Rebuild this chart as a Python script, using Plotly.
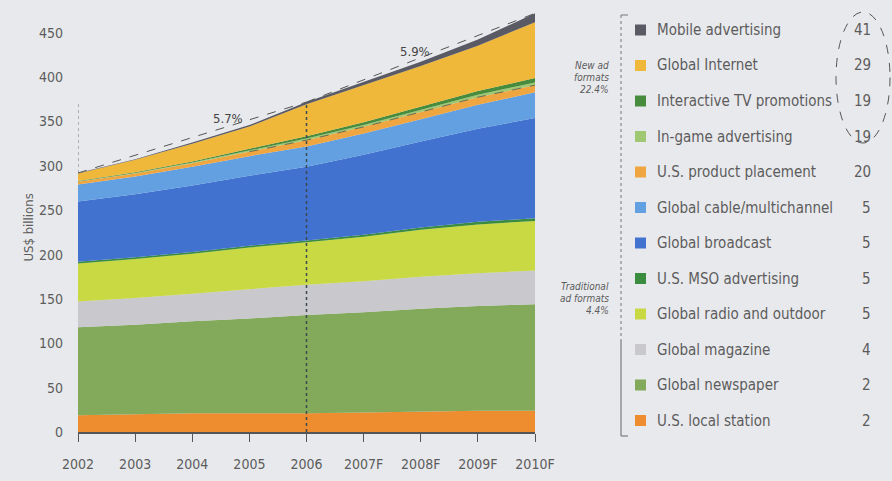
import plotly.graph_objects as go

# ---- data (US$ billions) ----
years = ["2002", "2003", "2004", "2005", "2006", "2007F", "2008F", "2009F", "2010F"]

local_station   = [19, 20, 21, 21, 21, 22, 23, 24, 24]
newspaper       = [99, 101, 104, 107, 111, 113, 116, 118, 120]
magazine        = [29, 30, 31, 33, 34, 35, 36, 37, 38]
radio_outdoor   = [43, 44, 45, 47, 48, 50, 53, 55, 56]
mso             = [2, 2, 2, 2, 2, 2.5, 2.5, 3, 3]
broadcast       = [68, 71, 75, 79, 83, 90, 97, 105, 113]
cable           = [19, 20, 21, 22, 23, 24, 25, 27, 29]
product_place   = [3, 3.5, 4, 5, 7, 7.5, 8, 8.5, 8]
in_game         = [0.4, 0.6, 0.9, 1.3, 2, 2.2, 2.5, 2.8, 3]
itv             = [0.6, 0.8, 1.2, 1.6, 2.5, 3, 3.5, 4.2, 5]
internet        = [8.5, 14, 20, 25.5, 36, 42, 46, 51, 63]
mobile          = [0.5, 0.7, 1.2, 1.6, 2.5, 3.5, 5, 7, 10]

# legend order (top to bottom) with CAGR %
series = [
    ("Mobile advertising",        mobile,        "#5a5a64", "41"),
    ("Global Internet",           internet,      "#efb83a", "29"),
    ("Interactive TV promotions", itv,           "#468c3c", "19"),
    ("In-game advertising",       in_game,       "#a0c872", "19"),
    ("U.S. product placement",    product_place, "#f0a640", "20"),
    ("Global cable/multichannel", cable,         "#62a0e2", "5"),
    ("Global broadcast",          broadcast,     "#4272d0", "5"),
    ("U.S. MSO advertising",      mso,           "#3a8c3e", "5"),
    ("Global radio and outdoor",  radio_outdoor, "#c8d944", "5"),
    ("Global magazine",           magazine,      "#c8c8cd", "4"),
    ("Global newspaper",          newspaper,     "#82aa5a", "2"),
    ("U.S. local station",        local_station, "#ee8c30", "2"),
]
new_formats_label = ["New ad", "formats", "22.4%"]
trad_formats_label = ["Traditional", "ad formats", "4.4%"]
growth_labels = ["5.7%", "5.9%"]

xs = list(range(len(years)))
totals = [sum(s[1][i] for s in series) for i in xs]
traditional = [totals[i] - mobile[i] - internet[i] - itv[i] - in_game[i] for i in xs]

FONT = "DejaVu Sans Condensed, Liberation Sans Narrow, Arial Narrow, sans-serif"
GREY = "#5c5c5c"
BG = "#e8e9ec"

# page geometry
W, H = 892, 481
L, R, T, B = 78, 357, 8, 49
PW, PH = W - L - R, H - T - B


def px(x):
    return (x - L) / PW


def py(y):
    return (H - B - y) / PH


fig = go.Figure()

# stacked areas, bottom layer first
for name, vals, color, _ in reversed(series):
    fig.add_trace(go.Scatter(
        x=xs, y=vals, name=name, stackgroup="one", mode="lines",
        line=dict(width=0, color=color), fillcolor=color,
        hoverinfo="x+y+name", showlegend=False,
    ))

# growth trend lines 2002-2006 and 2006-2010
fig.add_trace(go.Scatter(x=[0, 4], y=[totals[0], totals[4]], mode="lines",
                         line=dict(color="#555", width=1, dash="dash"),
                         showlegend=False, hoverinfo="skip"))
fig.add_trace(go.Scatter(x=[4, 8], y=[totals[4], totals[8]], mode="lines",
                         line=dict(color="#555", width=1, dash="dash"),
                         showlegend=False, hoverinfo="skip"))
# boundary between traditional and new formats
fig.add_trace(go.Scatter(x=xs[3:], y=traditional[3:], mode="lines",
                         line=dict(color="#6a6a50", width=1, dash="dash"),
                         showlegend=False, hoverinfo="skip"))
# 2006 reference line and 2002 level marker
fig.add_trace(go.Scatter(x=[4, 4], y=[0, totals[4]], mode="lines",
                         line=dict(color="#3c4a50", width=1.5, dash="dot"),
                         showlegend=False, hoverinfo="skip"))
fig.add_trace(go.Scatter(x=[0, 0], y=[totals[0], totals[4]], mode="lines",
                         line=dict(color="#777", width=1, dash="dot"),
                         showlegend=False, hoverinfo="skip"))

annotations = []
shapes = []

# growth labels
annotations.append(dict(x=2.63, y=totals[0] + (totals[4] - totals[0]) * 2.63 / 4 + 9,
                        xref="x", yref="y", text=growth_labels[0], showarrow=False,
                        font=dict(family=FONT, size=13, color="#444")))
annotations.append(dict(x=5.9, y=totals[4] + (totals[8] - totals[4]) * 1.9 / 4 + 9,
                        xref="x", yref="y", text=growth_labels[1], showarrow=False,
                        font=dict(family=FONT, size=13, color="#444")))

# y axis title
annotations.append(dict(x=px(18), y=py(228), xref="paper", yref="paper",
                        text="US$ billions", textangle=-90, showarrow=False,
                        font=dict(family=FONT, size=13, color=GREY)))

# legend rows
row0, step = 30, 35.5
for i, (name, _, color, cagr) in enumerate(series):
    yc = row0 + i * step
    shapes.append(dict(type="rect", xref="paper", yref="paper",
                       x0=px(635), x1=px(646), y0=py(yc + 5.5), y1=py(yc - 5.5),
                       fillcolor=color, line=dict(width=0)))
    annotations.append(dict(x=px(655), y=py(yc), xref="paper", yref="paper",
                            text=name, showarrow=False, xanchor="left", yanchor="middle",
                            font=dict(family=FONT, size=15, color=GREY)))
    annotations.append(dict(x=px(873), y=py(yc), xref="paper", yref="paper",
                            text=cagr, showarrow=False, xanchor="right", yanchor="middle",
                            font=dict(family=FONT, size=15, color=GREY)))

# group labels
for j, t in enumerate(new_formats_label):
    annotations.append(dict(x=px(611), y=py(65 + j * 12), xref="paper", yref="paper",
                            text="<i>" + t + "</i>", showarrow=False, xanchor="right",
                            yanchor="middle", font=dict(family=FONT, size=10, color=GREY)))
for j, t in enumerate(trad_formats_label):
    annotations.append(dict(x=px(611), y=py(286 + j * 12), xref="paper", yref="paper",
                            text="<i>" + t + "</i>", showarrow=False, xanchor="right",
                            yanchor="middle", font=dict(family=FONT, size=10, color=GREY)))

# bracket beside the legend
bx = 621
shapes += [
    dict(type="line", xref="paper", yref="paper", x0=px(bx), x1=px(bx), y0=py(15), y1=py(340),
         line=dict(color="#777", width=1, dash="dot")),
    dict(type="line", xref="paper", yref="paper", x0=px(bx), x1=px(bx), y0=py(340), y1=py(436),
         line=dict(color="#666", width=1)),
    dict(type="line", xref="paper", yref="paper", x0=px(bx), x1=px(bx + 7), y0=py(15), y1=py(15),
         line=dict(color="#777", width=1)),
    dict(type="line", xref="paper", yref="paper", x0=px(bx), x1=px(bx + 7), y0=py(436), y1=py(436),
         line=dict(color="#666", width=1)),
    # dashed ellipse round the fastest-growing formats
    dict(type="circle", xref="paper", yref="paper", x0=px(836), x1=px(890), y0=py(143), y1=py(12),
         line=dict(color="#555", width=1, dash="dash")),
]

fig.update_layout(
    width=W, height=H,
    margin=dict(l=L, r=R, t=T, b=B),
    paper_bgcolor=BG, plot_bgcolor=BG,
    showlegend=False,
    annotations=annotations, shapes=shapes,
    xaxis=dict(range=[0, 8], tickvals=xs, ticktext=years, showgrid=False, zeroline=False,
               showline=True, linecolor="#555", linewidth=1.5, ticks="outside", ticklen=8,
               tickcolor="#555", ticklabelstandoff=10,
               tickfont=dict(family=FONT, size=14, color=GREY)),
    yaxis=dict(range=[0, PH / 0.887], tickvals=[0, 50, 100, 150, 200, 250, 300, 350, 400, 450],
               showgrid=False, zeroline=False, showline=False, ticks="",
               ticklabelstandoff=14,
               tickfont=dict(family=FONT, size=14, color=GREY)),
)

fig.write_html("out.html")
